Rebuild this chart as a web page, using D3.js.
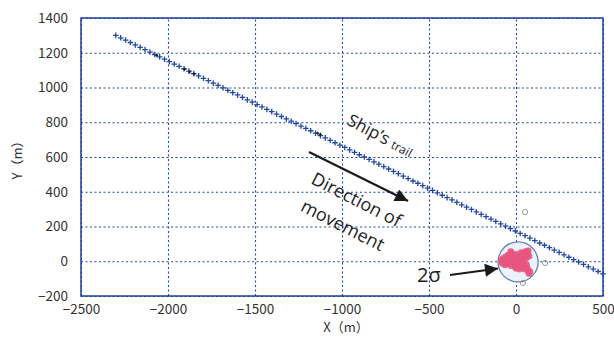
<!DOCTYPE html>
<html lang="en">
  <head>
    <meta charset="UTF-8" />
    <title>Ship's trail</title>
    <script src="https://cdnjs.cloudflare.com/ajax/libs/d3/7.8.5/d3.min.js"></script>
    <style>
      body { margin: 0; background: #fff; }
      .grid line { stroke: #2348a0; stroke-dasharray: 2,2.5; stroke-width: 1.1; }
      .note { font-family: "Open Sans", "Noto Sans", sans-serif; fill: #222; }
    </style>
  </head>
  <body>
    <svg width="614" height="343"></svg>
    <script>
      // 轴刻度
      var xTicks = [-2500, -2000, -1500, -1000, -500, 0, 500];
      var yTicks = [-200, 0, 200, 400, 600, 800, 1000, 1200, 1400];

      // 航迹点
      var trailX = [-2300,-2272,-2244,-2216,-2188,-2160,-2132,-2104,-2076,-2048,-2020,-1992,-1964,-1936,-1908,-1880,-1852,-1824,-1796,-1768,-1740,-1712,-1684,-1656,-1628,-1600,-1572,-1544,-1516,-1488,-1460,-1432,-1404,-1376,-1348,-1320,-1292,-1264,-1236,-1208,-1180,-1152,-1124,-1096,-1068,-1040,-1012,-984,-956,-928,-900,-872,-844,-816,-788,-760,-732,-704,-676,-648,-620,-592,-564,-536,-508,-480,-452,-424,-396,-368,-340,-312,-284,-256,-228,-200,-172,-144,-116,-88,-60,-32,-4,24,52,80,108,136,164,192,220,248,276,304,332,360,388,416,444,472,500];
      var trailY = [1300,1286,1273,1259,1245,1231,1218,1204,1190,1176,1163,1149,1135,1122,1108,1094,1080,1067,1053,1039,1025,1012,998,984,970,957,943,929,916,902,888,874,861,847,833,819,806,792,778,765,751,737,723,710,696,682,668,655,641,627,613,600,586,572,559,545,531,517,504,490,476,462,449,435,421,408,394,380,366,353,339,325,311,298,284,270,257,243,229,215,202,188,174,160,147,133,119,105,92,78,64,51,37,23,9,-4,-18,-32,-45,-59,-73];

      // 航迹中的黑色小点
      var blackX = [-2065, -1905, -1875, -1850, -1140, -1125];
      var blackY = [1185, 1105, 1090, 1078, 737, 730];

      // 测量点（粉色）
      var pinkX = [-85,-75,-70,-60,-55,-50,-45,-40,-35,-30,-25,-20,-15,-10,-5,0,5,10,15,20,25,30,35,40,45,50,55,60,65,70,75,60,65,70,75,80,50,30,-65,-30,0,20,40,-80];
      var pinkY = [5,15,-5,25,10,-15,35,20,0,-25,45,30,10,-10,-30,40,20,0,-20,30,10,-15,-35,15,-5,35,55,20,45,60,30,-20,-40,-55,-70,-60,-45,50,-20,55,-40,-45,40,-10];

      // 离群点（灰色空心）
      var outX = [52, 167, 40];
      var outY = [283, -10, -125];

      // 2σ 圆
      var sigmaCenter = [12, -4];
      var sigmaR = 115;

      var svg = d3.select("svg");
      var mLeft = 81, mRight = 603, mTop = 18, mBottom = 296;

      var x = d3.scaleLinear().domain([-2500, 500]).range([mLeft, mRight]);
      var y = d3.scaleLinear().domain([-200, 1400]).range([mBottom, mTop]);

      var defs = svg.append("defs");
      defs.append("marker")
        .attr("id", "head")
        .attr("viewBox", "0 0 10 10")
        .attr("refX", 10).attr("refY", 5)
        .attr("markerUnits", "userSpaceOnUse")
        .attr("markerWidth", 15).attr("markerHeight", 13)
        .attr("orient", "auto")
        .append("path").attr("d", "M0,0L10,5L0,10Z").attr("fill", "#1a1a1a");

      // 网格 + 刻度
      svg.append("g")
        .attr("class", "grid")
        .attr("transform", "translate(0," + mBottom + ")")
        .call(d3.axisBottom(x).tickValues(xTicks).tickSize(-(mBottom - mTop)).tickPadding(8).tickFormat(d3.format("d")))
        .call(g => g.select(".domain").remove());

      svg.append("g")
        .attr("class", "grid")
        .attr("transform", "translate(" + mLeft + ",0)")
        .call(d3.axisLeft(y).tickValues(yTicks).tickSize(-(mRight - mLeft)).tickPadding(13).tickFormat(d3.format("d")))
        .call(g => g.select(".domain").remove());

      svg.selectAll(".tick text")
        .style("font-family", "'Noto Sans CJK JP', sans-serif")
        .style("font-size", "13.5px")
        .attr("fill", "#333");

      // 边框
      svg.append("rect")
        .attr("x", mLeft).attr("y", mTop)
        .attr("width", mRight - mLeft).attr("height", mBottom - mTop)
        .attr("fill", "none").attr("stroke", "#1f3f98").attr("stroke-width", 1.5);

      // 航迹
      svg.append("g").selectAll("path")
        .data(trailX.map((d, i) => [d, trailY[i]]))
        .join("path")
        .attr("transform", d => "translate(" + x(d[0]) + "," + y(d[1]) + ")")
        .attr("d", "M-2.8,0H2.8M0,-2.8V2.8")
        .attr("stroke", "#2448a2").attr("stroke-width", 1.3);

      svg.append("g").selectAll("path")
        .data(blackX.map((d, i) => [d, blackY[i]]))
        .join("path")
        .attr("transform", d => "translate(" + x(d[0]) + "," + y(d[1]) + ")")
        .attr("d", "M-1.5,0H1.5M0,-1.5V1.5")
        .attr("stroke", "#111").attr("stroke-width", 1);

      // 2σ 圆
      svg.append("circle")
        .attr("cx", x(sigmaCenter[0])).attr("cy", y(sigmaCenter[1]))
        .attr("r", x(sigmaCenter[0] + sigmaR) - x(sigmaCenter[0]))
        .attr("fill", "#edf2fa").attr("stroke", "#5b86aa").attr("stroke-width", 1.3);

      svg.append("g").selectAll("circle")
        .data(pinkX.map((d, i) => [d, pinkY[i]]))
        .join("circle")
        .attr("cx", d => x(d[0])).attr("cy", d => y(d[1]))
        .attr("r", 3.4)
        .attr("fill", "#e8557f").attr("fill-opacity", 0.9);

      svg.append("g").selectAll("circle")
        .data(outX.map((d, i) => [d, outY[i]]))
        .join("circle")
        .attr("cx", d => x(d[0])).attr("cy", d => y(d[1]))
        .attr("r", 2.6)
        .attr("fill", "none").attr("stroke", "#999").attr("stroke-width", 1);

      // 坐标轴标题
      svg.append("text")
        .attr("x", 346).attr("y", 332)
        .attr("text-anchor", "middle")
        .style("font-family", "'Noto Sans CJK JP', sans-serif").style("font-size", "13px").attr("fill", "#333")
        .text("X（m）");

      svg.append("text")
        .attr("transform", "translate(22,157) rotate(-90)")
        .attr("text-anchor", "middle")
        .style("font-family", "'Noto Sans CJK JP', sans-serif").style("font-size", "13px").attr("fill", "#333")
        .text("Y（m）");

      // 注释
      var ship = svg.append("text").attr("class", "note")
        .attr("transform", "translate(346,124) rotate(28)")
        .style("font-size", "17px");
      ship.append("tspan").text("Ship’s ");
      ship.append("tspan").style("font-size", "12px").text("trail");

      var dir = svg.append("g").attr("transform", "translate(310,183) rotate(27)");
      dir.append("text").attr("class", "note").style("font-size", "18px").text("Direction of");
      dir.append("text").attr("class", "note").attr("x", 3).attr("y", 29).style("font-size", "18px").text("movement");

      svg.append("line")
        .attr("x1", 309).attr("y1", 152).attr("x2", 408).attr("y2", 201)
        .attr("stroke", "#1a1a1a").attr("stroke-width", 2.2)
        .attr("marker-end", "url(#head)");

      svg.append("text").attr("class", "note")
        .attr("x", 417).attr("y", 282)
        .style("font-size", "20px")
        .text("2σ");

      svg.append("line")
        .attr("x1", 450).attr("y1", 275).attr("x2", 498).attr("y2", 268.5)
        .attr("stroke", "#1a1a1a").attr("stroke-width", 1.8)
        .attr("marker-end", "url(#head)");
    </script>
  </body>
</html>
